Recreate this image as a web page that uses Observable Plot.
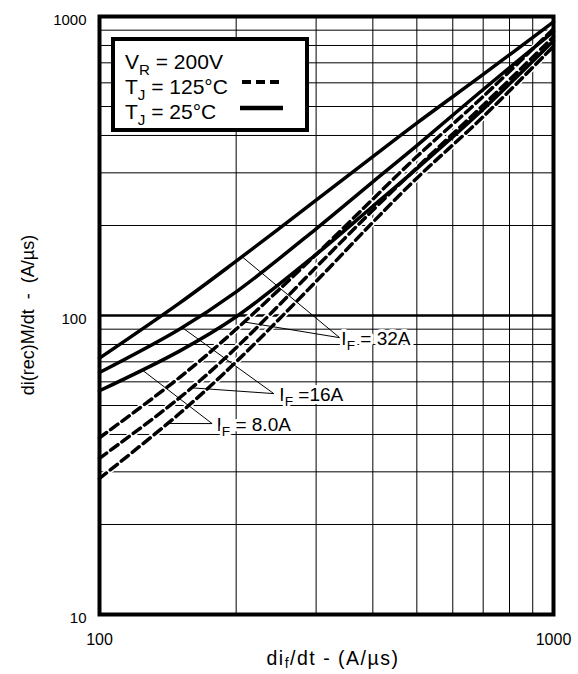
<!DOCTYPE html>
<html><head><meta charset="utf-8">
<script src="https://cdn.jsdelivr.net/npm/d3@7"></script>
<script src="https://cdn.jsdelivr.net/npm/@observablehq/plot@0.6"></script>
<style>
body{margin:0;background:#fff;}
#chart svg{display:block;}
</style></head><body><div id="chart"></div>
<script>
// ---- data ----
const diF = [100, 150, 200, 300, 400, 500, 700, 1000];           // A/µs
const solid32  = [72, 110, 152, 243, 340, 440, 640, 960];         // TJ=25°C, IF=32A
const solid16  = [64.5, 90, 120, 195, 280, 370, 570, 890];        // TJ=25°C, IF=16A
const solid8   = [56, 76, 99, 160, 232, 310, 490, 830];           // TJ=25°C, IF=8A
const dashed32 = [39, 62, 90, 160, 245, 340, 540, 910];           // TJ=125°C, IF=32A
const dashed16 = [33.3, 53, 78, 145, 225, 312, 505, 855];         // TJ=125°C, IF=16A
const dashed8  = [28.5, 47, 70, 130, 205, 288, 462, 795];         // TJ=125°C, IF=8A

const xTicks = [100, 1000];
const yTicks = [10, 100, 1000];
const xGrid = [200, 300, 400, 500, 600, 700, 800, 900];
const yGrid = [20, 30, 40, 50, 60, 70, 80, 90, 200, 300, 400, 500, 600, 700, 800, 900];
const yMajor = [100];

const ifLabels = ["I_{F} = 32A", "I_{F} =16A", "I_{F} = 8.0A"];
const labelX = [341, 249, 181];
const labelY = [83.8, 54.4, 43.2];
const pointerFromX = [338, 242, 177];
const pointerFromY = [84.3, 54.8, 43.5];
const pointerSolidX = [206, 152, 124];
const pointerDashedX = [208, 159, 141];

const legendLines = ["V_{R} = 200V", "T_{J} = 125°C", "T_{J} = 25°C"];

(function () {
// ---- build tables ----
const solidSeries = [["32A", solid32], ["16A", solid16], ["8A", solid8]];
const dashedSeries = [["32A", dashed32], ["16A", dashed16], ["8A", dashed8]];
const toRows = ser => ser.flatMap(([id, vals]) => diF.map((x, i) => ({x, y: vals[i], id})));
const solidRows = toRows(solidSeries);
const dashedRows = toRows(dashedSeries);

function at(vals, x) {
  for (let i = 0; i < diF.length - 1; i++) {
    if (x >= diF[i] && x <= diF[i + 1]) {
      const t = Math.log(x / diF[i]) / Math.log(diF[i + 1] / diF[i]);
      return Math.exp(Math.log(vals[i]) + t * Math.log(vals[i + 1] / vals[i]));
    }
  }
  return vals[vals.length - 1];
}
const pointers = [];
ifLabels.forEach((_, i) => {
  pointers.push({x1: pointerFromX[i], y1: pointerFromY[i], x2: pointerSolidX[i], y2: at(solidSeries[i][1], pointerSolidX[i])});
  pointers.push({x1: pointerFromX[i], y1: pointerFromY[i], x2: pointerDashedX[i], y2: at(dashedSeries[i][1], pointerDashedX[i])});
});
const labels = ifLabels.map((t, i) => ({t, x: labelX[i], y: labelY[i]}));

const W = 578, H = 674, mL = 99, mR = 25, mT = 16, mB = 60;
const curve = "catmull-rom";

const plot = Plot.plot({
  width: W, height: H,
  marginLeft: mL, marginRight: mR, marginTop: mT, marginBottom: mB,
  style: {fontFamily: "'Liberation Sans', Arial, sans-serif", color: "#000", background: "#fff"},
  x: {type: "log", domain: [100, 1000], label: null},
  y: {type: "log", domain: [10, 1000], label: null},
  marks: [
    Plot.ruleX(xGrid, {stroke: "#000", strokeWidth: 1}),
    Plot.ruleY(yGrid, {stroke: "#000", strokeWidth: 1}),
    Plot.ruleY(yMajor, {stroke: "#000", strokeWidth: 2.5}),
    Plot.line(dashedRows, {x: "x", y: "y", z: "id", stroke: "#fff", strokeWidth: 6.5, curve}),
    Plot.line(solidRows, {x: "x", y: "y", z: "id", stroke: "#000", strokeWidth: 3.5, curve}),
    Plot.line(dashedRows, {x: "x", y: "y", z: "id", stroke: "#000", strokeWidth: 3.5, strokeDasharray: "9,5", curve}),
    Plot.link(pointers, {x1: "x1", y1: "y1", x2: "x2", y2: "y2", stroke: "#000", strokeWidth: 1}),
    Plot.text(labels, {x: "x", y: "y", text: "t", textAnchor: "start", lineAnchor: "middle", fontSize: 19,
      fill: "#000", stroke: "#fff", strokeWidth: 6, paintOrder: "stroke"}),
    Plot.frame({stroke: "#000", strokeWidth: 4}),
    Plot.axisX(xTicks, {tickSize: 0, tickPadding: 19, fontSize: 16, label: null, tickFormat: d => String(d)}),
    Plot.axisY(yTicks, {tickSize: 0, tickPadding: 13, dy: 4, fontSize: 15, label: null, tickFormat: d => String(d)})
  ]
});
document.getElementById("chart").appendChild(plot);

const svg = d3.select(plot);
const fx = plot.scale("x"), fy = plot.scale("y");
const pL = fx.apply(100), pT = fy.apply(1000), pB = fy.apply(10), pR = fx.apply(1000);

// legend inside the plot
const lg = svg.append("g").attr("class", "legend").attr("text-anchor", "start");
lg.append("rect").attr("x", pL + 14).attr("y", pT + 23).attr("width", 194).attr("height", 91)
  .attr("fill", "#fff").attr("stroke", "#000").attr("stroke-width", 4);
legendLines.forEach((t, i) => {
  lg.append("text").attr("x", pL + 26).attr("y", pT + 53 + i * 25).attr("text-anchor", "start")
    .attr("font-size", 21).attr("fill", "#000").text(t);
});
lg.append("line").attr("x1", pL + 143).attr("x2", pL + 184).attr("y1", pT + 66).attr("y2", pT + 66)
  .attr("stroke", "#000").attr("stroke-width", 4).attr("stroke-dasharray", "9,5");
lg.append("line").attr("x1", pL + 141).attr("x2", pL + 184).attr("y1", pT + 92).attr("y2", pT + 92)
  .attr("stroke", "#000").attr("stroke-width", 4.5);

// axis titles
svg.append("text").attr("x", (pL + pR) / 2 + 7).attr("y", pB + 51)
  .attr("text-anchor", "middle").attr("font-size", 19.5).attr("letter-spacing", "1.5px").attr("fill", "#000")
  .attr("data-sub", "0.15")
  .text("di_{f}/dt - (A/µs)");
svg.append("text").attr("transform", `translate(34,${(pT + pB) / 2}) rotate(-90)`)
  .attr("text-anchor", "middle").attr("font-size", 18).attr("fill", "#000")
  .style("white-space", "pre").text("di(rec)M/dt  -  (A/µs)");

// subscripts: convert "_{X}" into lowered, smaller tspans
plot.querySelectorAll("text").forEach(el => {
  const s = el.textContent;
  if (!s.includes("_{")) return;
  const fs = parseFloat(getComputedStyle(el).fontSize) || 16;
  const shift = fs * (el.getAttribute("data-sub") ? parseFloat(el.getAttribute("data-sub")) : 0.28);
  while (el.firstChild) el.removeChild(el.firstChild);
  const parts = s.split(/_\{([^}]*)\}/);
  let lowered = false;
  parts.forEach((p, i) => {
    if (p === "") { return; }
    const ts = document.createElementNS("http://www.w3.org/2000/svg", "tspan");
    ts.textContent = p;
    if (i % 2 === 1) {
      ts.setAttribute("font-size", fs * 0.72);
      ts.setAttribute("dy", shift);
      lowered = true;
    } else if (lowered) {
      ts.setAttribute("dy", -shift);
      lowered = false;
    }
    el.appendChild(ts);
  });
});
})();
</script>
</body></html>
